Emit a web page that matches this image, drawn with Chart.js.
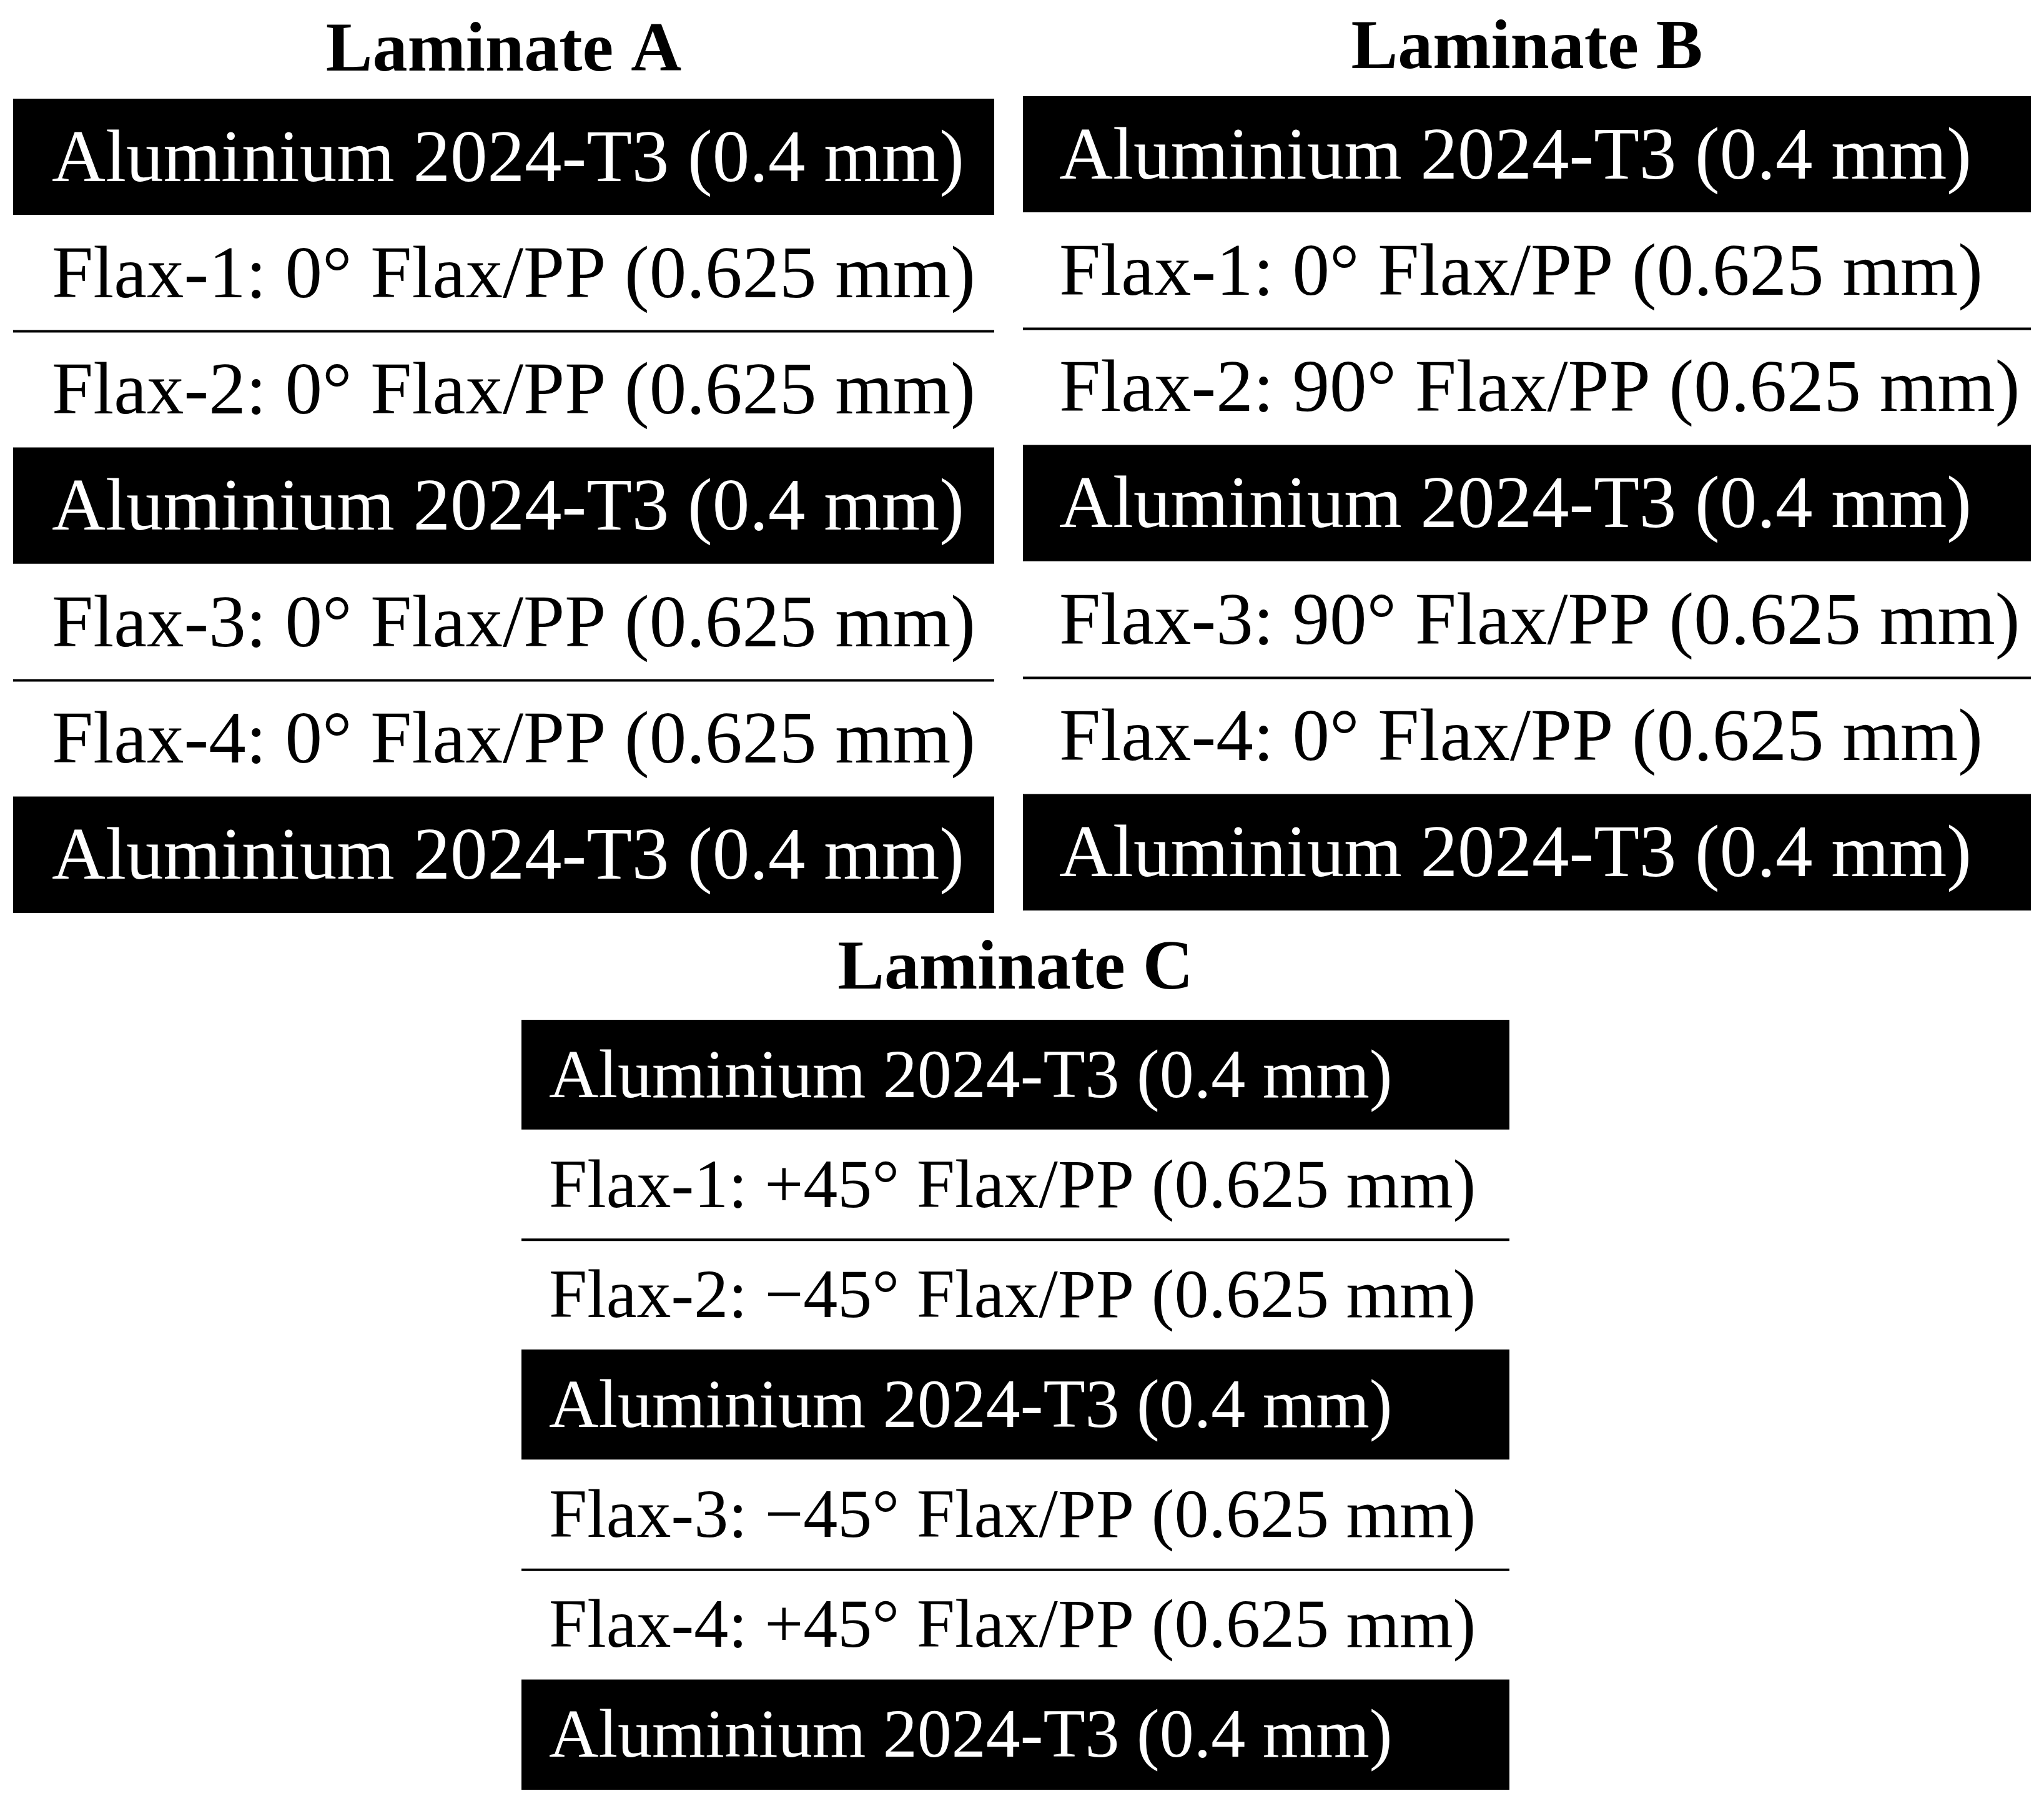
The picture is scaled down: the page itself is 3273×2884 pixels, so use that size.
<!DOCTYPE html>
<html>
<head>
<meta charset="utf-8">
<script src="https://cdn.jsdelivr.net/npm/chart.js@4.4.0/dist/chart.umd.min.js"></script>
<style>
  body { margin: 0; background: #fff; width: 3273px; height: 2884px; position: relative; overflow: hidden; }
  canvas { position: absolute; }
</style>
</head>
<body>
<canvas id="lamA" width="1571" height="1462" style="left:21px;top:0px"></canvas>
<canvas id="lamB" width="1614" height="1462" style="left:1638px;top:-4px"></canvas>
<canvas id="lamC" width="1582" height="1396" style="left:835px;top:1470px"></canvas>
<script>
var titles = ['Laminate A', 'Laminate B', 'Laminate C'];

var layersA = ['Aluminium 2024-T3 (0.4 mm)', 'Flax-1: 0° Flax/PP (0.625 mm)', 'Flax-2: 0° Flax/PP (0.625 mm)',
    'Aluminium 2024-T3 (0.4 mm)', 'Flax-3: 0° Flax/PP (0.625 mm)', 'Flax-4: 0° Flax/PP (0.625 mm)',
    'Aluminium 2024-T3 (0.4 mm)'];
var layersB = ['Aluminium 2024-T3 (0.4 mm)', 'Flax-1: 0° Flax/PP (0.625 mm)', 'Flax-2: 90° Flax/PP (0.625 mm)',
    'Aluminium 2024-T3 (0.4 mm)', 'Flax-3: 90° Flax/PP (0.625 mm)', 'Flax-4: 0° Flax/PP (0.625 mm)',
    'Aluminium 2024-T3 (0.4 mm)'];
var layersC = ['Aluminium 2024-T3 (0.4 mm)', 'Flax-1: +45° Flax/PP (0.625 mm)', 'Flax-2: \u221245° Flax/PP (0.625 mm)',
    'Aluminium 2024-T3 (0.4 mm)', 'Flax-3: \u221245° Flax/PP (0.625 mm)', 'Flax-4: +45° Flax/PP (0.625 mm)',
    'Aluminium 2024-T3 (0.4 mm)'];
// 'al' = aluminium sheet, 'flax' = flax/PP ply
var layerKinds = ['al', 'flax', 'flax', 'al', 'flax', 'flax', 'al'];
var rowSize = [1, 1, 1, 1, 1, 1, 1];
// separator lines drawn below these rows
var splitAfter = [1, 4];

var serif = '"Palatino Linotype", "Book Antiqua", "Liberation Serif", "DejaVu Serif", serif';

var layerText = {
    id: 'layerText',
    afterDatasetsDraw: function (chart, args, opts) {
        var c = chart.ctx;
        var area = chart.chartArea;
        var bars = chart.getDatasetMeta(0).data;
        c.save();
        c.font = opts.size + 'px ' + serif;
        c.textBaseline = 'middle';
        bars.forEach(function (bar, i) {
            c.fillStyle = layerKinds[i] == 'al' ? '#fff' : '#000';
            c.fillText(chart.data.labels[i], area.left + opts.pad, bar.y + opts.size * 0.06);
        });
        c.strokeStyle = '#000';
        c.lineWidth = 4;
        splitAfter.forEach(function (i) {
            var y = bars[i].y + bars[i].height / 2;
            c.beginPath();
            c.moveTo(area.left, y);
            c.lineTo(area.right, y);
            c.stroke();
        });
        c.restore();
    }
};

function makeLaminate(id, title, layers, size, pad, padTop, padBottom) {
    new Chart(document.getElementById(id), {
        type: 'bar',
        data: {
            labels: layers,
            datasets: [{
                data: rowSize,
                backgroundColor: layerKinds.map(function (k) { return k == 'al' ? '#000' : '#fff'; }),
                barPercentage: 1,
                categoryPercentage: 1,
                borderWidth: 0
            }]
        },
        options: {
            indexAxis: 'y',
            responsive: false,
            animation: false,
            devicePixelRatio: 1,
            layout: { padding: 0 },
            scales: {
                x: { display: false, min: 0, max: 1 },
                y: { display: false }
            },
            plugins: {
                legend: { display: false },
                tooltip: { enabled: false },
                title: {
                    display: true,
                    text: title,
                    color: '#000',
                    font: { family: serif, size: 112, weight: 'bold', lineHeight: 1.0 },
                    padding: { top: 28, bottom: padBottom + 1 }
                },
                layerText: { size: size, pad: pad }
            }
        },
        plugins: [layerText]
    });
}

makeLaminate('lamA', titles[0], layersA, 119, 62, 22, 17);
makeLaminate('lamB', titles[1], layersB, 119, 58, 22, 17);
makeLaminate('lamC', titles[2], layersC, 110, 44, 25, 22);
</script>
</body>
</html>
